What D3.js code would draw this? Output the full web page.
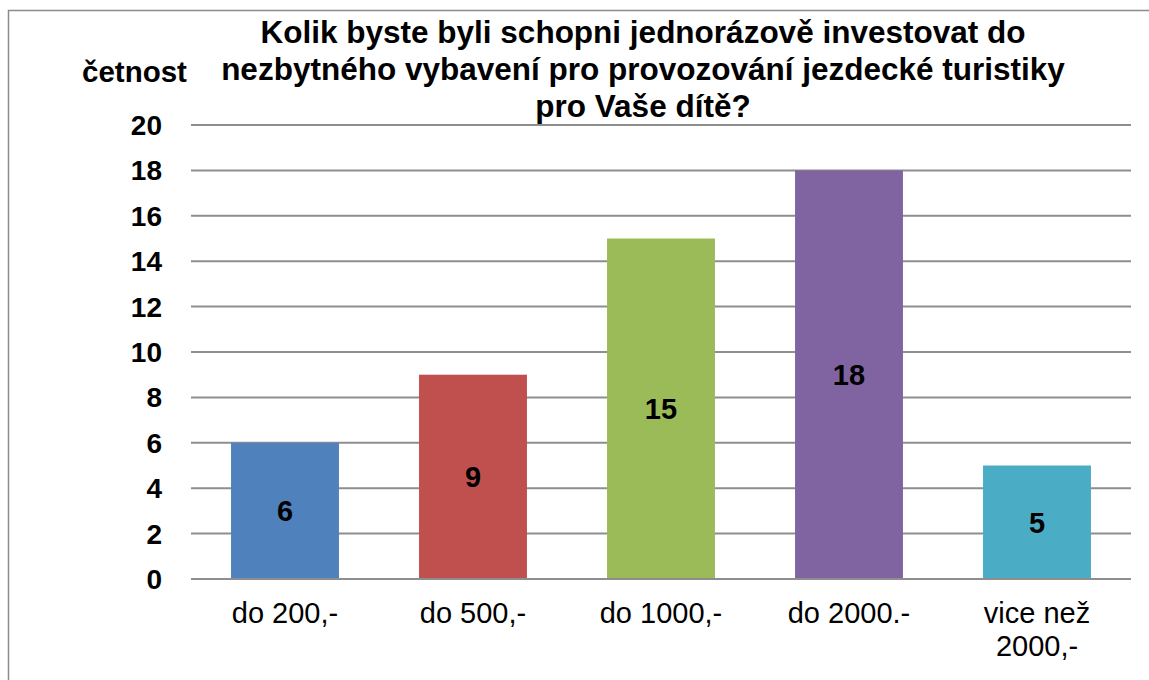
<!DOCTYPE html>
<html>
<head>
<meta charset="utf-8">
<script src="https://cdn.jsdelivr.net/npm/d3@7"></script>
<style>
  body { margin: 0; background: #fff; }
  text { font-family: "Liberation Sans", Arial, sans-serif; }
</style>
</head>
<body>
<div id="chart"></div>
<script>
// data
const categories = ['do 200,-', 'do 500,-', 'do 1000,-', 'do 2000.-', 'vice než 2000,-'];
const values = [6, 9, 15, 18, 5];
const colors = ['#4F81BD', '#C0504D', '#9BBB59', '#8064A2', '#4BACC6'];
const yTicks = [0, 2, 4, 6, 8, 10, 12, 14, 16, 18, 20];
const titleLines = ['Kolik byste byli schopni jednorázově investovat do',
  'nezbytného vybavení pro provozování jezdecké turistiky',
  'pro Vaše dítě?'];

const width = 1149, height = 680;
const svg = d3.select('#chart').append('svg')
  .attr('width', width)
  .attr('height', height);

// outer border
svg.append('rect')
  .attr('x', 8.5).attr('y', 10.5)
  .attr('width', 1160).attr('height', 700)
  .attr('fill', 'none')
  .attr('stroke', '#8c8c8c')
  .attr('stroke-width', 1.5);

const plotLeft = 191, plotRight = 1131, plotTop = 125, plotBottom = 579;

const x = d3.scaleBand().domain(categories).range([plotLeft, plotRight]).paddingInner(0.426).paddingOuter(0.213);
const y = d3.scaleLinear().domain([0, 20]).range([plotBottom, plotTop]);

// gridlines
svg.append('g').selectAll('line')
  .data(yTicks)
  .enter().append('line')
  .attr('x1', plotLeft).attr('x2', plotRight)
  .attr('y1', d => y(d)).attr('y2', d => y(d))
  .attr('stroke', '#8e8e8e')
  .attr('stroke-width', 2);

// y tick labels
svg.append('g').selectAll('text')
  .data(yTicks)
  .enter().append('text')
  .attr('x', 162)
  .attr('y', d => y(d))
  .attr('dy', '0.36em')
  .attr('text-anchor', 'end')
  .attr('font-size', 28)
  .attr('font-weight', 'bold')
  .text(d => d);

// bars
svg.append('g').selectAll('rect')
  .data(values)
  .enter().append('rect')
  .attr('x', (d, i) => x(categories[i]))
  .attr('y', d => y(d))
  .attr('width', x.bandwidth())
  .attr('height', d => plotBottom - y(d))
  .attr('fill', (d, i) => colors[i]);

// baseline over bars
svg.append('line')
  .attr('x1', plotLeft).attr('x2', plotRight)
  .attr('y1', plotBottom).attr('y2', plotBottom)
  .attr('stroke', '#8e8e8e')
  .attr('stroke-width', 2);

// value labels
svg.append('g').selectAll('text')
  .data(values)
  .enter().append('text')
  .attr('x', (d, i) => x(categories[i]) + x.bandwidth() / 2)
  .attr('y', d => (y(d) + plotBottom) / 2)
  .attr('dy', '0.36em')
  .attr('text-anchor', 'middle')
  .attr('font-size', 29)
  .attr('font-weight', 'bold')
  .text(d => d);

// category labels (wrap the long one)
const catLines = categories.map(c => c === 'vice než 2000,-' ? ['vice než', '2000,-'] : [c]);
svg.append('g').selectAll('text')
  .data(categories)
  .enter().append('text')
  .attr('text-anchor', 'middle')
  .attr('font-size', 29)
  .each(function(d, i) {
    const t = d3.select(this);
    catLines[i].forEach((line, j) => {
      t.append('tspan')
        .attr('x', x(d) + x.bandwidth() / 2)
        .attr('y', 623 + j * 33)
        .text(line);
    });
  });

// title
svg.append('text')
  .attr('text-anchor', 'middle')
  .attr('font-size', 31.5)
  .attr('font-weight', 'bold')
  .selectAll('tspan')
  .data(titleLines)
  .enter().append('tspan')
  .attr('x', 643)
  .attr('y', (d, i) => 43 + i * 37)
  .text(d => d);

// axis title
svg.append('text')
  .attr('x', 82)
  .attr('y', 82)
  .attr('font-size', 29.5)
  .attr('font-weight', 'bold')
  .text('četnost');
</script>
</body>
</html>
